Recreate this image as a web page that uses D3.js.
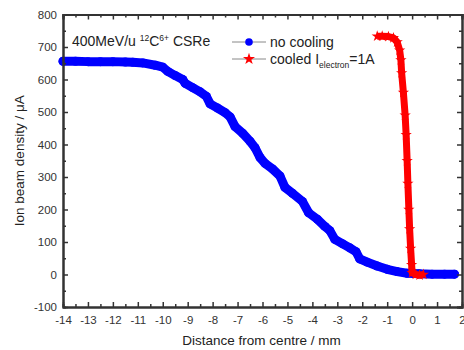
<!DOCTYPE html>
<html lang="en">
<head>
    <meta charset="UTF-8">
    <title>Ion beam density profile</title>
    <script src="https://d3js.org/d3.v7.min.js"></script>
    <style>
        body { margin: 0; background: #fff; }
        text { font-family: "Liberation Sans", Arial, sans-serif; fill: #222; }
        .tick text { font-size: 11.5px; fill: #333; }
        .axis path, .axis line { stroke: #333; }
    </style>
</head>
<body>
    <svg id="chart" width="464" height="350"></svg>
    <script>
        // no cooling (blue circles)
        const noCoolX = [-14, -13.5, -13, -12.5, -12, -11.5, -11.2, -10.8, -10.3, -10.0, -9.8, -9.5, -9.2, -9.1,
            -8.8, -8.5, -8.25, -8.1, -7.8, -7.5, -7.3, -7.1, -6.8, -6.5, -6.3, -6.1, -5.9, -5.6, -5.3, -5.1,
            -4.8, -4.4, -4.15, -3.8, -3.5, -3.3, -3.1, -2.8, -2.5, -2.25, -2.1, -1.8, -1.4, -1.0, -0.6, -0.2,
            0.3, 0.8, 1.3, 1.7];
        const noCoolY = [656, 656, 655, 655, 655, 654, 653, 651, 644, 638, 625, 612, 600, 588,
            575, 562, 548, 525, 512, 498, 485, 455, 435, 410, 390, 360, 342, 325, 303, 268,
            250, 225, 190, 170, 148, 135, 108, 95, 82, 70, 48, 38, 26, 16, 9, 4,
            2, 1, 1, 1];

        // cooled, I_electron = 1A (red stars)
        const cooledX = [-1.4, -1.2, -0.95, -0.75, -0.6, -0.5, -0.45, -0.42, -0.35, -0.28, -0.24, -0.2,
            -0.17, -0.13, -0.1, -0.06, -0.02, 0.0, 0.15, 0.3, 0.45];
        const cooledY = [733, 733, 732, 728, 715, 690, 660, 620, 560, 490, 430, 350,
            280, 200, 140, 80, 30, 5, 0, -2, 0];

        const xTicks = d3.range(-14, 3, 1);
        const yTicks = d3.range(-100, 801, 100);

        const svg = d3.select("#chart");
        const mLeft = 63, mRight = 462, mTop = 14.5, mBottom = 307;

        const x = d3.scaleLinear().domain([-14, 2]).range([mLeft, mRight]);
        const y = d3.scaleLinear().domain([-100, 800]).range([mBottom, mTop]);

        const blue = noCoolX.map((d, i) => [d, noCoolY[i]]);
        const red = cooledX.map((d, i) => [d, cooledY[i]]);

        const line = d3.line().x(d => x(d[0])).y(d => y(d[1]));

        const plot = svg.append("g");
        plot.append("path").datum(blue)
            .attr("d", line).attr("fill", "none")
            .attr("stroke", "#0000ff").attr("stroke-width", 9)
            .attr("stroke-linejoin", "round").attr("stroke-linecap", "round");
        plot.selectAll(".bdot").data(blue).enter().append("circle")
            .attr("cx", d => x(d[0])).attr("cy", d => y(d[1])).attr("r", 4.5)
            .attr("fill", "#0000ff");

        const star = d3.symbol().type(d3.symbolStar).size(40);
        plot.append("path").datum(red)
            .attr("d", line).attr("fill", "none")
            .attr("stroke", "#ff0000").attr("stroke-width", 7)
            .attr("stroke-linejoin", "round");
        plot.selectAll(".rstar").data(red).enter().append("path")
            .attr("d", star)
            .attr("transform", d => `translate(${x(d[0])},${y(d[1])})`)
            .attr("fill", "#ff0000");

        // axes: ticks inward on all four sides
        const fmt = d => String(d);
        function styleAxis(g) {
            g.attr("class", "axis");
            g.select(".domain").attr("stroke-width", 2);
            g.selectAll(".tick line").attr("stroke-width", 1.5);
        }
        const xMinor = d3.range(-13.5, 2, 1);
        const yMinor = d3.range(-50, 800, 100);

        svg.append("g").attr("transform", `translate(0,${mBottom})`)
            .call(d3.axisBottom(x).tickValues(xTicks).tickFormat(fmt).tickSizeInner(-5).tickSizeOuter(0).tickPadding(9))
            .call(styleAxis);
        svg.append("g").attr("transform", `translate(0,${mBottom})`)
            .call(d3.axisBottom(x).tickValues(xMinor).tickSize(-3).tickFormat(""))
            .call(styleAxis);
        svg.append("g").attr("transform", `translate(0,${mTop})`)
            .call(d3.axisTop(x).tickValues(xTicks).tickSize(-5).tickFormat(""))
            .call(styleAxis);
        svg.append("g").attr("transform", `translate(0,${mTop})`)
            .call(d3.axisTop(x).tickValues(xMinor).tickSize(-3).tickFormat(""))
            .call(styleAxis);

        svg.append("g").attr("transform", `translate(${mLeft},0)`)
            .call(d3.axisLeft(y).tickValues(yTicks).tickFormat(fmt).tickSizeInner(-5).tickSizeOuter(0).tickPadding(6))
            .call(styleAxis);
        svg.append("g").attr("transform", `translate(${mLeft},0)`)
            .call(d3.axisLeft(y).tickValues(yMinor).tickSize(-3).tickFormat(""))
            .call(styleAxis);
        svg.append("g").attr("transform", `translate(${mRight},0)`)
            .call(d3.axisRight(y).tickValues(yTicks).tickSize(-5).tickFormat(""))
            .call(styleAxis);
        svg.append("g").attr("transform", `translate(${mRight},0)`)
            .call(d3.axisRight(y).tickValues(yMinor).tickSize(-3).tickFormat(""))
            .call(styleAxis);

        // axis titles
        svg.append("text")
            .attr("x", (mLeft + mRight) / 2 - 1).attr("y", 345)
            .attr("text-anchor", "middle").attr("font-size", 13.5)
            .text("Distance from centre / mm");
        svg.append("text")
            .attr("transform", `translate(24,${(mTop + mBottom) / 2}) rotate(-90)`)
            .attr("text-anchor", "middle").attr("font-size", 13.5)
            .text("Ion beam density / \u03bcA");

        // annotation
        const ann = svg.append("text").attr("x", 72).attr("y", 46).attr("font-size", 14);
        ann.append("tspan").text("400MeV/u ");
        ann.append("tspan").attr("font-size", 8.5).attr("dy", -5).text("12");
        ann.append("tspan").attr("dy", 5).text("C");
        ann.append("tspan").attr("font-size", 8.5).attr("dy", -5).text("6+");
        ann.append("tspan").attr("dy", 5).text(" CSRe");

        // legend
        const lg = svg.append("g");
        [42, 59].forEach(ly => {
            lg.append("line").attr("x1", 232).attr("x2", 266).attr("y1", ly).attr("y2", ly)
                .attr("stroke", "#888").attr("stroke-width", 1);
        });
        lg.append("circle").attr("cx", 249).attr("cy", 42).attr("r", 3.8).attr("fill", "#0000ff");
        lg.append("path").attr("d", d3.symbol().type(d3.symbolStar).size(45))
            .attr("transform", "translate(249,59)").attr("fill", "#ff0000");
        lg.append("text").attr("x", 270).attr("y", 47).attr("font-size", 14).text("no cooling");
        const l2 = lg.append("text").attr("x", 270).attr("y", 64).attr("font-size", 14);
        l2.append("tspan").text("cooled I");
        l2.append("tspan").attr("font-size", 8.5).attr("dy", 4).text("electron");
        l2.append("tspan").attr("dy", -4).text("=1A");
    </script>
</body>
</html>
